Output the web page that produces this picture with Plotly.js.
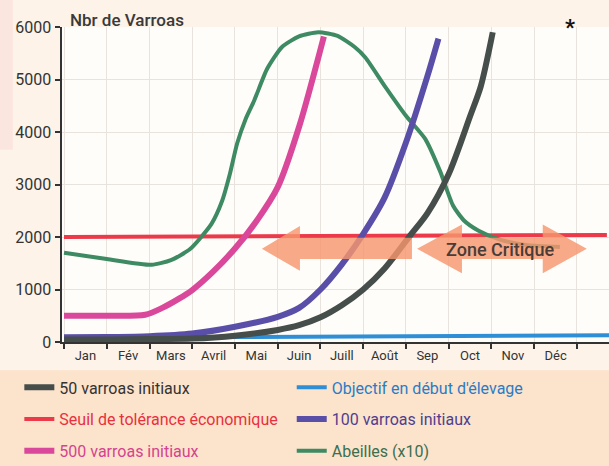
<!DOCTYPE html>
<html>
<head>
<meta charset="utf-8">
<script src="https://cdn.plot.ly/plotly-3.0.1.min.js"></script>
<style>html,body{margin:0;padding:0;background:#fdf3e8}</style>
</head>
<body>
<div id="chart" style="width:609px;height:466px"></div>
<script>
// Month labels (category bands 0..12)
const months = ['Jan','Fév','Mars','Avril','Mai','Juin','Juill','Août','Sep','Oct','Nov','Déc'];

// 50 varroas initiaux
const v50_x = [0, 1, 2, 3, 4, 5, 5.5, 6, 6.5, 7, 7.5, 8.1, 8.5, 9, 9.5, 9.75, 10.03];
const v50_y = [50, 50, 55, 65, 120, 230, 320, 470, 700, 1000, 1400, 2030, 2450, 3200, 4300, 4870, 5900];

// 100 varroas initiaux
const v100_x = [0, 1, 2, 3, 4, 5, 5.5, 6, 6.5, 7, 7.5, 8, 8.5, 8.76];
const v100_y = [90, 95, 110, 160, 290, 480, 650, 1000, 1480, 2060, 2750, 3800, 5060, 5780];

// 500 varroas initiaux
const v500_x = [0, 1, 1.9, 2.3, 2.7, 3, 3.5, 4, 4.5, 5, 5.5, 6.08];
const v500_y = [500, 500, 520, 650, 830, 990, 1350, 1780, 2300, 2950, 4100, 5820];

// Abeilles (x10)
const bees_x = [0, 1, 2.05, 2.5, 2.95, 3.45, 3.7, 3.88, 4.05, 4.25, 4.45, 4.75, 5.1, 5.5, 5.95, 6.4, 6.8, 7.05, 7.5, 8.0, 8.45, 8.8, 9.1, 9.35, 9.7, 10.2, 10.8, 11.6];
const bees_y = [1700, 1580, 1470, 1560, 1770, 2250, 2690, 3200, 3780, 4250, 4600, 5200, 5620, 5820, 5900, 5830, 5620, 5420, 4880, 4310, 3870, 3250, 2600, 2320, 2120, 1950, 1850, 1810];

// Seuil de tolérance économique
const seuil_x = [0, 12.7];
const seuil_y = [2000, 2040];

// Objectif en début d'élevage
const obj_x = [0, 12.75];
const obj_y = [80, 130];

const FONT = 'Roboto, "Open Sans", sans-serif';

function lbl(t, c){ return '<span style="color:' + c + '">' + t + '</span>'; }

const traces = [
  {x: obj_x, y: obj_y, name: lbl("Objectif en début d'élevage", '#2a7cc7'), mode:'lines',
   line:{color:'#2f8fd6', width:4}, legend:'legend2', legendgroup:'b', legendrank:1},
  {x: seuil_x, y: seuil_y, name: lbl('Seuil de tolérance économique', '#e8303f'), mode:'lines',
   line:{color:'#ec3a4a', width:4}, legend:'legend', legendgroup:'r', legendrank:2},
  {x: bees_x, y: bees_y, name: lbl('Abeilles (x10)', '#3b6f50'), mode:'lines',
   line:{color:'#3d8a63', width:4, shape:'spline', smoothing:0.6}, legend:'legend2', legendgroup:'g', legendrank:3},
  {x: v500_x, y: v500_y, name: lbl('500 varroas initiaux', '#d4438f'), mode:'lines',
   line:{color:'#d9489a', width:6, shape:'spline', smoothing:0.8}, legend:'legend', legendgroup:'p', legendrank:3},
  {x: v100_x, y: v100_y, name: lbl('100 varroas initiaux', '#4f3f8f'), mode:'lines',
   line:{color:'#5a4fa8', width:6, shape:'spline', smoothing:0.8}, legend:'legend2', legendgroup:'v', legendrank:2},
  {x: v50_x, y: v50_y, name: lbl('50 varroas initiaux', '#333333'), mode:'lines',
   line:{color:'#464e4b', width:6, shape:'spline', smoothing:0.8}, legend:'legend', legendgroup:'k', legendrank:1}
];

const arrowFill = 'rgba(246,150,110,0.82)';

const layout = {
  width: 609, height: 466,
  margin: {l:62, r:0, t:27, b:124, pad:0, autoexpand:false},
  paper_bgcolor: '#fdf3e8',
  plot_bgcolor: '#fffdf9',
  font: {family: FONT, color:'#333'},
  showlegend: true,
  xaxis: {
    range: [-0.047, 12.75],
    tickmode: 'array',
    tickvals: months.map((m,i) => i + 0.5),
    ticktext: months,
    ticks: '',
    showgrid: false,
    zeroline: false,
    showline: true, linecolor:'#333', linewidth:2,
    tickfont: {size:13, color:'#333', family: FONT},
    minor: {tick0:0, dtick:1, ticks:'outside', ticklen:5, tickwidth:2, tickcolor:'#333',
            showgrid:true, gridcolor:'#e8e3dc', gridwidth:1},
    fixedrange: true
  },
  yaxis: {
    range: [0, 6000],
    tickmode: 'linear', tick0: 0, dtick: 1000,
    ticks: 'outside', ticklen: 5, tickwidth: 2, tickcolor:'#333',
    showline: true, linecolor:'#333', linewidth:2.5,
    showgrid: true, gridcolor:'#e8e3dc', gridwidth:1,
    zeroline: false,
    tickfont: {size:16, color:'#333', family: FONT},
    fixedrange: true
  },
  legend: {
    x: -0.078, y: -0.09, xanchor:'left', yanchor:'top',
    bgcolor:'rgba(0,0,0,0)', font:{size:16, family: FONT},
    tracegroupgap: 8, traceorder:'grouped'
  },
  legend2: {
    x: 0.42, y: -0.09, xanchor:'left', yanchor:'top',
    bgcolor:'rgba(0,0,0,0)', font:{size:16, family: FONT},
    tracegroupgap: 8, traceorder:'grouped'
  },
  shapes: [
    {type:'rect', xref:'paper', yref:'paper', x0:-0.2, x1:1.1, y0:-0.09, y1:-0.5,
     fillcolor:'#fce3cb', line:{width:0}, layer:'below'},
    {type:'rect', xref:'paper', yref:'paper', x0:-0.114, x1:-0.09, y0:1.09, y1:0.61,
     fillcolor:'#fbe6df', line:{width:0}, layer:'below'},
    {type:'path', xref:'x', yref:'y', layer:'above',
     path:'M 4.63,1775 L 5.52,2210 L 5.52,1985 L 8.14,1985 L 8.14,1580 L 5.52,1580 L 5.52,1355 Z',
     fillcolor: arrowFill, line:{width:0}},
    {type:'path', xref:'x', yref:'y', layer:'above',
     path:'M 8.26,1775 L 9.31,2240 L 9.31,1985 L 11.2,1985 L 11.2,2240 L 12.23,1775 L 11.2,1310 L 11.2,1580 L 9.31,1580 L 9.31,1310 Z',
     fillcolor: arrowFill, line:{width:0}}
  ],
  annotations: [
    {text:'Nbr de Varroas', xref:'paper', yref:'paper', x:0.011, y:1.022, xanchor:'left', yanchor:'middle',
     showarrow:false, font:{size:17, color:'#3a3a3a', family: FONT, weight:500}},
    {text:'Zone Critique', xref:'x', yref:'y', x:10.2, y:1760, xanchor:'center', yanchor:'middle',
     showarrow:false, font:{size:18, color:'#4a3c36', family: FONT, weight:500}},
    {text:'<b>*</b>', xref:'paper', yref:'paper', x:0.929, y:1.0, xanchor:'center', yanchor:'middle',
     showarrow:false, font:{size:22, color:'#111', family: FONT}}
  ]
};

Plotly.newPlot('chart', traces, layout, {displayModeBar:false, staticPlot:true});
</script>
</body>
</html>
